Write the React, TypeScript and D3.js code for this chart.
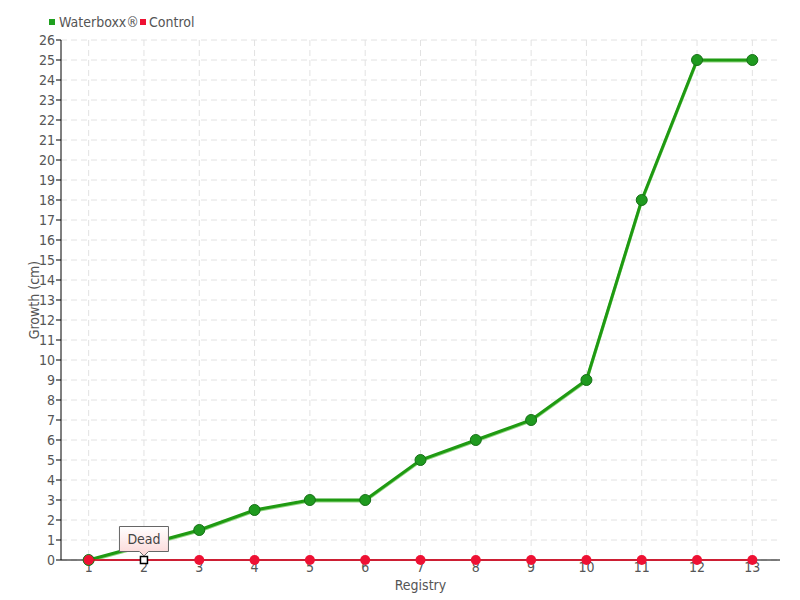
import React from "react";
import * as d3 from "d3";

const categories = ["1","2","3","4","5","6","7","8","9","10","11","12","13"];
const waterboxx = [0, 0.75, 1.5, 2.5, 3, 3, 5, 6, 7, 9, 18, 25, 25];
const control = [0, 0, 0, 0, 0, 0, 0, 0, 0, 0, 0, 0, 0];
const yTicks = d3.range(0, 27);
const seriesNames = ["Waterboxx®", "Control"];
const tooltipText = "Dead";
const tooltipIndex = 1;

const W = 800, H = 600;
const m = { left: 61, right: 20, top: 40, bottom: 40 };
const FONT = "'DejaVu Sans Condensed', 'DejaVu Sans', sans-serif";

export default function App() {
  const x = d3.scaleBand<string>().domain(categories).range([m.left, W - m.right]);
  const y = d3.scaleLinear().domain([0, 26]).range([H - m.bottom, m.top]);
  const cx = (c: string) => (x(c) as number) + x.bandwidth() / 2;
  const line = d3.line<number>().x((_, i) => cx(categories[i])).y((d) => y(d));
  const x0 = m.left, x1 = W - m.right;
  const tx = cx(categories[tooltipIndex]);
  const ty = y(control[tooltipIndex]);
  return (
    <svg width={W} height={H} style={{ position: "absolute", left: 0, top: 0, background: "#fff" }} fontFamily={FONT} fontStretch="condensed">
      <defs>
        <linearGradient id="tipg" x1="0" y1="0" x2="0" y2="1">
          <stop offset="0" stopColor="#ffffff" />
          <stop offset="1" stopColor="#fcd6d6" />
        </linearGradient>
      </defs>
      {yTicks.map((t) => (
        <line key={"h" + t} x1={x0} x2={x1} y1={y(t)} y2={y(t)} stroke="#e2e2e2" strokeDasharray="6,4" />
      ))}
      {categories.map((c) => (
        <line key={"v" + c} x1={cx(c)} x2={cx(c)} y1={y(26)} y2={y(0)} stroke="#e2e2e2" strokeDasharray="6,4" />
      ))}
      <line x1={x0} x2={x0} y1={y(26)} y2={y(0)} stroke="#000" />
      <line x1={x0} x2={x1} y1={y(0)} y2={y(0)} stroke="#000" />
      {yTicks.map((t) => (
        <g key={"yt" + t}>
          <line x1={x0 - 5} x2={x0} y1={y(t)} y2={y(t)} stroke="#000" />
          <text x={x0 - 6} y={y(t)} dy="0.35em" textAnchor="end" fontSize={14} fill="#555">{t}</text>
        </g>
      ))}
      {categories.map((c) => (
        <text key={"xt" + c} x={cx(c)} y={y(0) + 12} textAnchor="middle" fontSize={14} fill="#555">{c}</text>
      ))}
      <text transform={`translate(39,${(y(0) + y(26)) / 2}) rotate(-90)`} textAnchor="middle" fontSize={14} fill="#555">Growth (cm)</text>
      <text x={(x0 + x1) / 2} y={590} textAnchor="middle" fontSize={14} fill="#555">Registry</text>
      <rect x={49} y={19} width={6} height={6} fill="#1fa01f" />
      <text x={59} y={27} fontSize={14} fill="#555">{seriesNames[0]}</text>
      <rect x={140} y={19} width={6} height={6} fill="#ee1133" />
      <text x={149} y={27} fontSize={14} fill="#555">{seriesNames[1]}</text>
      <path d={line(waterboxx) || ""} fill="none" stroke="#8fd67f" strokeWidth={3} transform="translate(0,1)" />
      <path d={line(waterboxx) || ""} fill="none" stroke="#1f9a12" strokeWidth={3} />
      {waterboxx.map((v, i) => (
        <circle key={"w" + i} cx={cx(categories[i])} cy={y(v)} r={5.5} fill="#1f9a1f" stroke="#167016" strokeWidth={1} />
      ))}
      <path d={line(control) || ""} fill="none" stroke="#e8001c" strokeWidth={1.5} />
      {control.map((v, i) =>
        i === tooltipIndex ? null : (
          <circle key={"c" + i} cx={cx(categories[i])} cy={y(v)} r={5} fill="#ee1133" />
        )
      )}
      <rect x={tx - 3.5} y={ty - 3.5} width={7} height={7} fill="#fff" stroke="#000" strokeWidth={1.5} />
      <path
        d={`M${tx - 24.5},${ty - 33.5} h49 v25 h-20 l-4.5,4.5 l-4.5,-4.5 h-20 Z`}
        fill="url(#tipg)" stroke="#666" strokeWidth={1}
      />
      <text x={tx} y={ty - 16} textAnchor="middle" fontSize={14} fill="#444">{tooltipText}</text>
    </svg>
  );
}
